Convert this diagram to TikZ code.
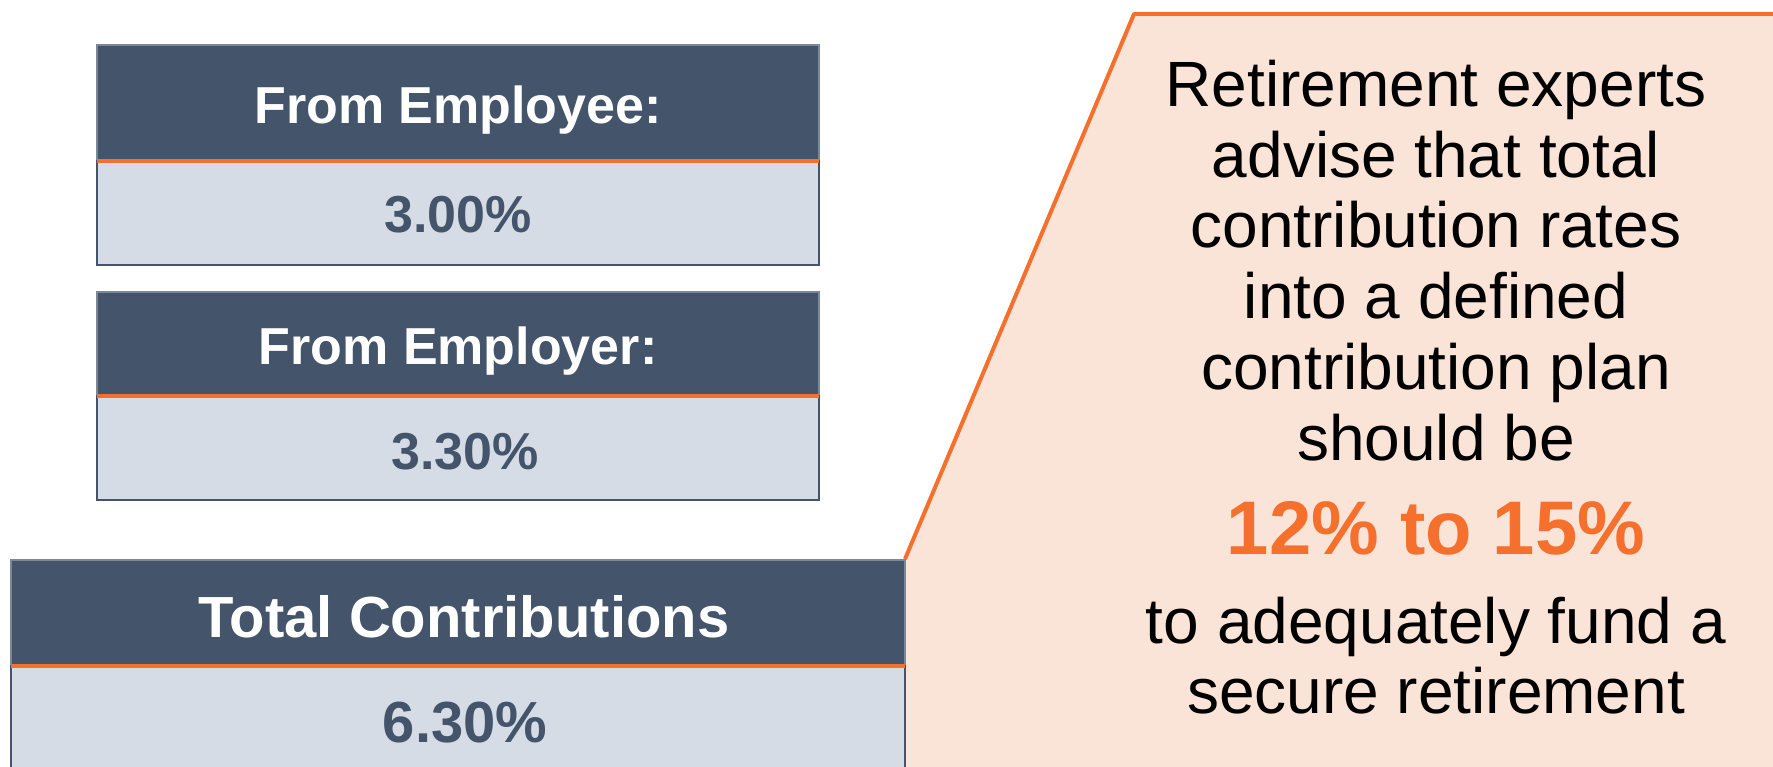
\documentclass[tikz,border=0pt]{standalone}
\usepackage{fontspec}
\setmainfont{Liberation Sans}
\definecolor{slate}{RGB}{68,84,106}
\definecolor{lightbody}{RGB}{214,220,229}
\definecolor{peach}{RGB}{250,228,215}
\definecolor{accent}{RGB}{244,112,44}
\tikzset{
  header/.style={fill=slate, draw=slate!70!white, line width=1.5pt},
  bodybox/.style={fill=lightbody, draw=slate, line width=2.5pt},
  sepline/.style={draw=accent, line width=3.5pt},
  headtext/.style={anchor=base, inner sep=0pt, text=white, font=\bfseries\fontsize{52}{60}\selectfont},
  valtext/.style={anchor=base, inner sep=0pt, text=slate, font=\bfseries\fontsize{52}{60}\selectfont},
  bigheadtext/.style={anchor=base, inner sep=0pt, text=white, font=\bfseries\fontsize{58}{66}\selectfont},
  bigvaltext/.style={anchor=base, inner sep=0pt, text=slate, font=\bfseries\fontsize{58}{66}\selectfont},
  advice/.style={anchor=base, inner sep=0pt, text=black, font=\fontsize{64}{70}\selectfont},
  ratetext/.style={anchor=base, inner sep=0pt, text=accent, font=\bfseries\fontsize{76}{80}\selectfont},
}
\begin{document}
\begin{tikzpicture}[x=1pt,y=-1pt]
\useasboundingbox (0,0) rectangle (1773,767);
% callout panel
\fill[peach] (1134,14) -- (1780,14) -- (1780,780) -- (905,780) -- (905,559) -- cycle;
\draw[accent, line width=4pt, line join=round] (905,559) -- (1134,14) -- (1780,14);
% box 1
\path[header] (97,45) rectangle (819,161);
\path[bodybox] (97,161) rectangle (819,265);
\draw[sepline] (97,161) -- (819,161);
\node[headtext] (h1) at (458,124) {From Employee:};
\node[valtext] (v1) at (458,233) {3.00\%};
% box 2
\path[header] (97,292) rectangle (819,396);
\path[bodybox] (97,396) rectangle (819,500);
\draw[sepline] (97,396) -- (819,396);
\node[headtext] (h2) at (458,365) {From Employer:};
\node[valtext] (v2) at (465,469) {3.30\%};
% box 3
\path[header] (11,560) rectangle (905,666);
\path[bodybox] (11,666) rectangle (905,790);
\draw[sepline] (11,666) -- (905,666);
\node[bigheadtext] (h3) at (464,637) {Total Contributions};
\node[bigvaltext] (v3) at (465,742) {6.30\%};
% advice text
\node[advice] (l1) at (1436,107) {Retirement experts};
\node[advice] (l2) at (1436,178) {advise that total};
\node[advice] (l3) at (1436,248) {contribution rates};
\node[advice] (l4) at (1436,319) {into a defined};
\node[advice] (l5) at (1436,389) {contribution plan};
\node[advice] (l6) at (1436,460) {should be};
\node[ratetext] (r1) at (1436,554) {12\% to 15\%};
\node[advice] (l7) at (1436,643) {to adequately fund a};
\node[advice] (l8) at (1436,713) {secure retirement};
\end{tikzpicture}
\end{document}
